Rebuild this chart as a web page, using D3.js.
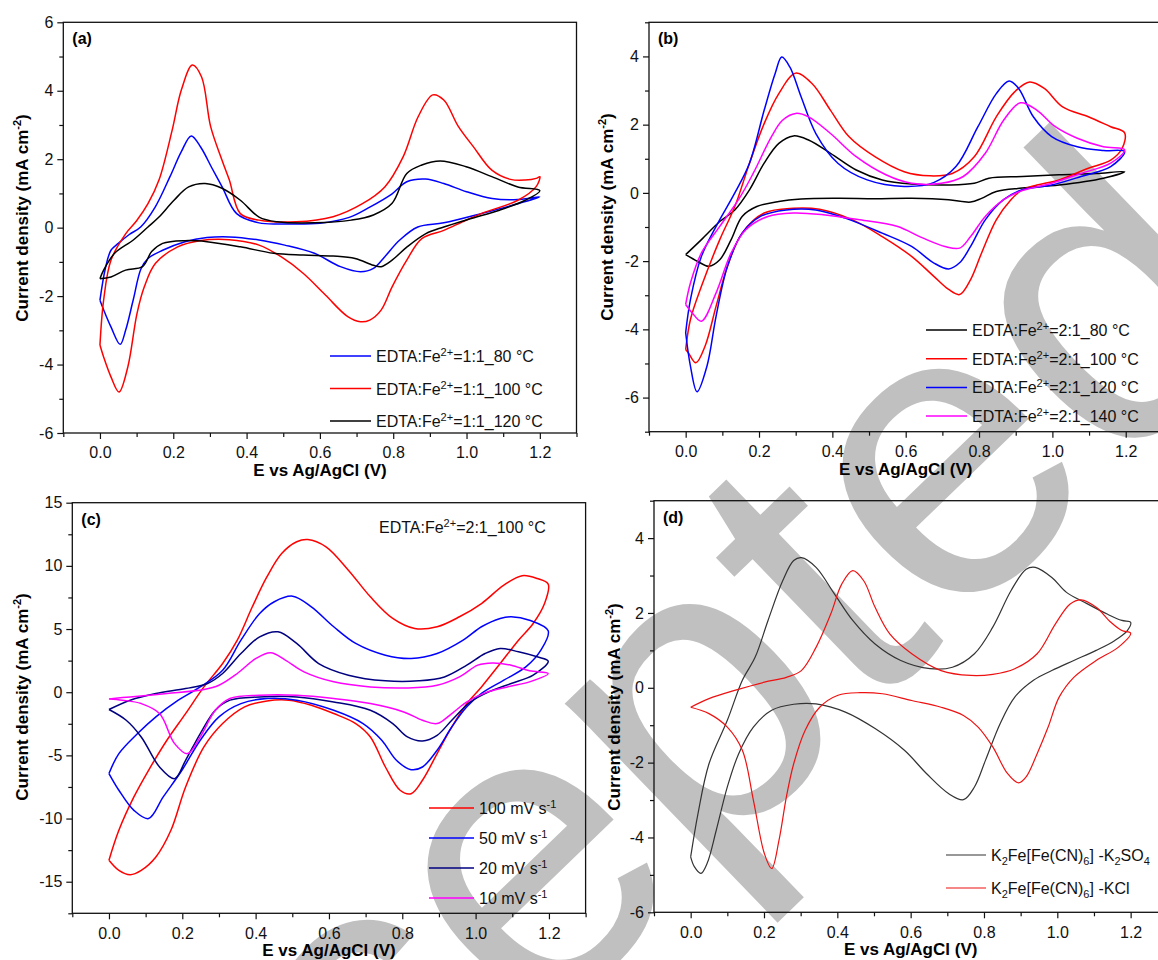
<!DOCTYPE html>
<html>
<head>
<meta charset="utf-8">
<script src="https://cdn.jsdelivr.net/npm/d3@7"></script>
<style>
  body { margin: 0; background: #fff; }
  svg { font-family: "Liberation Sans", Arial, sans-serif; }
  .tick text { font-size: 16px; fill: #111; }
</style>
</head>
<body>
<svg id="fig" width="1158" height="960"></svg>
<script>
// ---- panel (a): EDTA:Fe2+ = 1:1, E (V) / J (mA cm-2) pairs along the sweep
var a80 = [[0,-2.12],[0.015,-1.18],[0.03,-0.66],[0.05,-0.46],[0.08,-0.2],[0.111,0.02],[0.151,0.61],[0.191,1.49],[0.222,2.22],[0.249,2.68],[0.275,2.35],[0.305,1.75],[0.333,1.2],[0.373,0.41],[0.434,0.14],[0.5,0.11],[0.6,0.13],[0.68,0.3],[0.736,0.6],[0.797,0.99],[0.837,1.34],[0.888,1.42],[0.938,1.29],[1.0,1.05],[1.07,0.85],[1.14,0.82],[1.2,0.9],
  [1.14,0.7],[1.04,0.41],[0.938,0.14],[0.867,0.02],[0.817,-0.37],[0.777,-0.85],[0.746,-1.19],[0.711,-1.29],[0.656,-1.14],[0.585,-0.75],[0.504,-0.51],[0.434,-0.36],[0.353,-0.27],[0.292,-0.29],[0.232,-0.41],[0.171,-0.66],[0.131,-0.9],[0.112,-1.2],[0.091,-2.1],[0.07,-3.0],[0.055,-3.41],[0.03,-2.9],[0.01,-2.4],[0,-2.12]];
var a100 = [[0,-3.43],[0.01,-2.12],[0.03,-0.95],[0.07,-0.18],[0.1,0.2],[0.131,0.7],[0.161,1.39],[0.197,2.85],[0.222,4.02],[0.252,4.75],[0.277,4.41],[0.302,2.95],[0.333,1.97],[0.353,1.39],[0.383,0.41],[0.434,0.22],[0.535,0.17],[0.636,0.32],[0.716,0.7],[0.777,1.19],[0.827,2.07],[0.868,3.24],[0.908,3.88],[0.938,3.73],[0.978,2.95],[1.019,2.36],[1.069,1.68],[1.12,1.41],[1.16,1.39],[1.19,1.44],[1.2,1.49],
  [1.19,1.2],[1.14,0.8],[1.04,0.41],[0.989,0.17],[0.938,-0.08],[0.878,-0.32],[0.837,-0.95],[0.797,-1.73],[0.767,-2.41],[0.736,-2.7],[0.711,-2.75],[0.676,-2.6],[0.615,-1.97],[0.555,-1.34],[0.494,-0.85],[0.434,-0.51],[0.353,-0.35],[0.272,-0.38],[0.212,-0.56],[0.151,-1.05],[0.121,-1.73],[0.101,-2.51],[0.076,-4.07],[0.052,-4.8],[0.03,-4.36],[0.01,-3.78],[0,-3.43]];
var a120 = [[0,-1.49],[0.01,-1.24],[0.04,-0.75],[0.091,-0.36],[0.131,0.02],[0.161,0.31],[0.202,0.8],[0.242,1.19],[0.287,1.29],[0.333,1.15],[0.383,0.8],[0.434,0.31],[0.484,0.17],[0.585,0.14],[0.686,0.22],[0.746,0.37],[0.797,0.71],[0.837,1.58],[0.878,1.83],[0.928,1.95],[0.999,1.78],[1.069,1.49],[1.14,1.19],[1.2,1.08],
  [1.16,0.8],[1.09,0.51],[1.01,0.26],[0.938,0.02],[0.888,-0.18],[0.837,-0.57],[0.797,-0.95],[0.767,-1.14],[0.746,-1.1],[0.696,-0.9],[0.636,-0.83],[0.555,-0.8],[0.474,-0.75],[0.383,-0.56],[0.292,-0.41],[0.232,-0.38],[0.171,-0.46],[0.141,-0.7],[0.116,-1.14],[0.07,-1.24],[0.03,-1.44],[0,-1.49]];

// ---- panel (b): EDTA:Fe2+ = 2:1
var b80 = [[0,-1.81],[0.043,-1.37],[0.093,-0.84],[0.134,-0.5],[0.174,0.09],[0.214,0.87],[0.254,1.45],[0.294,1.67],[0.335,1.55],[0.395,1.16],[0.465,0.67],[0.536,0.38],[0.616,0.26],[0.717,0.23],[0.787,0.28],[0.827,0.43],[0.918,0.48],[1.018,0.53],[1.119,0.57],[1.197,0.62],
  [1.139,0.43],[1.018,0.23],[0.918,0.14],[0.847,0.04],[0.807,-0.16],[0.777,-0.27],[0.717,-0.2],[0.616,-0.16],[0.516,-0.17],[0.415,-0.16],[0.315,-0.18],[0.254,-0.25],[0.194,-0.4],[0.154,-0.69],[0.124,-1.37],[0.093,-1.96],[0.063,-2.15],[0.033,-2.01],[0,-1.81]];
var b100 = [[0,-4.59],[0.013,-3.71],[0.043,-2.74],[0.093,-1.37],[0.134,-0.4],[0.174,0.87],[0.214,2.03],[0.254,2.91],[0.3,3.51],[0.345,3.2],[0.395,2.42],[0.445,1.65],[0.516,1.06],[0.596,0.62],[0.666,0.5],[0.727,0.57],[0.787,1.06],[0.847,2.23],[0.897,2.96],[0.938,3.25],[0.978,3.06],[1.028,2.52],[1.098,2.23],[1.159,1.94],[1.197,1.76],
  [1.19,1.3],[1.159,0.96],[1.098,0.72],[1.018,0.38],[0.958,0.23],[0.918,0.09],[0.887,-0.2],[0.847,-0.79],[0.807,-1.76],[0.777,-2.54],[0.747,-2.98],[0.717,-2.83],[0.676,-2.44],[0.616,-1.86],[0.536,-1.28],[0.455,-0.79],[0.365,-0.48],[0.294,-0.45],[0.214,-0.59],[0.154,-1.18],[0.114,-2.15],[0.083,-3.32],[0.053,-4.49],[0.028,-4.98],[0.008,-4.7],[0,-4.59]];
var b120 = [[0,-4.1],[0.013,-3.13],[0.043,-1.86],[0.083,-0.98],[0.134,0],[0.174,0.87],[0.214,2.42],[0.244,3.5],[0.262,3.98],[0.284,3.69],[0.315,2.81],[0.355,1.74],[0.415,0.87],[0.495,0.38],[0.596,0.19],[0.676,0.3],[0.737,0.77],[0.797,1.94],[0.847,2.91],[0.882,3.28],[0.908,3.06],[0.948,2.23],[0.998,1.65],[1.068,1.35],[1.139,1.24],[1.197,1.21],
  [1.159,0.77],[1.078,0.48],[0.998,0.23],[0.918,0.09],[0.867,-0.2],[0.817,-0.79],[0.777,-1.57],[0.747,-2.05],[0.717,-2.23],[0.676,-2.05],[0.616,-1.57],[0.536,-1.18],[0.435,-0.74],[0.355,-0.5],[0.274,-0.5],[0.204,-0.69],[0.154,-1.18],[0.114,-2.15],[0.083,-3.61],[0.058,-5.08],[0.031,-5.83],[0.013,-5.08],[0,-4.1]];
var b140 = [[0,-3.27],[0.013,-2.64],[0.043,-1.76],[0.093,-0.98],[0.144,-0.2],[0.184,0.57],[0.234,1.65],[0.264,2.13],[0.3,2.33],[0.335,2.23],[0.395,1.74],[0.465,1.06],[0.546,0.53],[0.616,0.28],[0.697,0.28],[0.757,0.48],[0.817,1.16],[0.867,2.13],[0.913,2.64],[0.958,2.42],[1.008,1.94],[1.068,1.6],[1.139,1.35],[1.197,1.26],
  [1.159,0.87],[1.078,0.57],[0.998,0.28],[0.918,0.07],[0.867,-0.2],[0.817,-0.69],[0.777,-1.28],[0.747,-1.62],[0.707,-1.57],[0.646,-1.32],[0.576,-0.98],[0.475,-0.79],[0.375,-0.64],[0.294,-0.59],[0.224,-0.69],[0.164,-1.08],[0.124,-1.76],[0.083,-2.93],[0.043,-3.76],[0.018,-3.52],[0,-3.27]];

// ---- panel (c): 2:1_100 °C at different scan rates
var c100 = [[0,-13.3],[0.027,-10.93],[0.068,-8.29],[0.108,-6.18],[0.158,-3.8],[0.209,-1.69],[0.259,0.42],[0.31,2.27],[0.35,4.12],[0.391,6.76],[0.431,9.14],[0.471,10.98],[0.512,11.91],[0.542,12.09],[0.592,11.51],[0.653,9.66],[0.713,7.55],[0.774,5.84],[0.834,5.04],[0.895,5.18],[0.956,5.97],[1.016,7.02],[1.077,8.48],[1.127,9.22],[1.168,9.0],[1.198,8.56],
  [1.188,7.02],[1.157,5.44],[1.117,4.12],[1.067,2.27],[1.016,0.42],[0.976,-0.9],[0.935,-2.75],[0.895,-4.86],[0.855,-6.97],[0.824,-8.03],[0.794,-7.76],[0.754,-5.92],[0.713,-3.54],[0.673,-2.48],[0.613,-1.69],[0.552,-1.03],[0.491,-0.63],[0.431,-0.69],[0.37,-1.16],[0.31,-2.48],[0.259,-4.33],[0.209,-7.5],[0.169,-10.93],[0.128,-13.04],[0.088,-14.1],[0.058,-14.44],[0.027,-14.1],[0,-13.3]];
var c50 = [[0,-6.44],[0.027,-4.86],[0.078,-3.27],[0.128,-1.95],[0.189,-0.63],[0.249,0.42],[0.31,1.74],[0.36,4.12],[0.411,6.23],[0.451,7.16],[0.501,7.6],[0.552,6.76],[0.613,5.18],[0.673,3.86],[0.754,2.93],[0.824,2.67],[0.895,3.06],[0.966,4.12],[1.016,5.18],[1.067,5.84],[1.097,5.97],[1.147,5.7],[1.198,4.86],
  [1.178,3.33],[1.137,2.0],[1.077,0.95],[1.016,-0.1],[0.976,-1.16],[0.935,-2.75],[0.895,-4.59],[0.855,-5.92],[0.824,-6.13],[0.784,-5.39],[0.744,-3.8],[0.693,-2.48],[0.613,-1.43],[0.512,-0.63],[0.431,-0.5],[0.36,-0.9],[0.3,-1.95],[0.249,-3.8],[0.199,-6.18],[0.148,-8.29],[0.108,-10.0],[0.068,-9.35],[0.027,-7.76],[0,-6.44]];
var c20 = [[0,-1.37],[0.058,-0.63],[0.128,-0.1],[0.209,0.29],[0.269,0.69],[0.31,1.48],[0.36,3.06],[0.411,4.38],[0.461,4.78],[0.512,3.86],[0.572,2.27],[0.653,1.35],[0.754,0.9],[0.845,0.9],[0.915,1.21],[0.976,2.14],[1.026,3.06],[1.067,3.46],[1.117,3.2],[1.168,2.8],[1.198,2.46],
  [1.157,1.35],[1.097,0.69],[1.036,0.03],[0.986,-0.77],[0.935,-2.22],[0.895,-3.41],[0.855,-3.86],[0.814,-3.54],[0.774,-2.48],[0.713,-1.43],[0.613,-0.77],[0.512,-0.37],[0.411,-0.37],[0.33,-0.63],[0.29,-1.43],[0.249,-3.27],[0.209,-5.39],[0.179,-6.84],[0.138,-5.92],[0.088,-3.54],[0.047,-2.22],[0,-1.37]];
var c10 = [[0,-0.53],[0.058,-0.37],[0.158,-0.1],[0.259,0.21],[0.3,0.55],[0.35,1.48],[0.401,2.67],[0.441,3.12],[0.481,2.54],[0.532,1.61],[0.613,0.82],[0.713,0.42],[0.814,0.34],[0.895,0.55],[0.956,1.21],[1.006,2.14],[1.046,2.32],[1.097,2.14],[1.147,1.69],[1.198,1.48],
  [1.147,0.82],[1.087,0.42],[1.026,-0.05],[0.976,-0.77],[0.935,-1.69],[0.895,-2.48],[0.855,-2.22],[0.804,-1.56],[0.713,-0.9],[0.613,-0.5],[0.512,-0.24],[0.411,-0.24],[0.33,-0.5],[0.29,-1.43],[0.249,-3.54],[0.214,-4.86],[0.179,-4.07],[0.138,-1.69],[0.088,-0.9],[0.037,-0.63],[0,-0.53]];

// ---- panel (d): K2Fe[Fe(CN)6] in two electrolytes
var dSO4 = [[0,-4.52],[0.02,-3.36],[0.05,-2.03],[0.1,-0.87],[0.141,0.2],[0.176,0.82],[0.211,1.8],[0.251,2.86],[0.281,3.4],[0.302,3.48],[0.342,3.22],[0.392,2.51],[0.442,1.8],[0.503,1.17],[0.573,0.73],[0.653,0.51],[0.714,0.55],[0.774,0.91],[0.824,1.62],[0.874,2.6],[0.915,3.17],[0.94,3.22],[0.985,2.95],[1.025,2.55],[1.075,2.28],[1.136,1.97],[1.176,1.8],[1.2,1.75],
  [1.191,1.53],[1.156,1.26],[1.106,1.0],[1.045,0.73],[0.985,0.46],[0.935,0.2],[0.884,-0.25],[0.844,-0.96],[0.804,-1.94],[0.774,-2.65],[0.744,-2.99],[0.704,-2.83],[0.643,-2.29],[0.583,-1.67],[0.503,-1.09],[0.422,-0.65],[0.342,-0.43],[0.281,-0.44],[0.221,-0.6],[0.171,-1.05],[0.131,-1.76],[0.1,-2.65],[0.07,-3.8],[0.045,-4.69],[0.028,-4.96],[0.01,-4.78],[0,-4.52]];
var dKCl = [[0,-0.52],[0.05,-0.29],[0.12,-0.07],[0.201,0.15],[0.261,0.28],[0.302,0.46],[0.342,1.08],[0.382,1.97],[0.412,2.77],[0.442,3.13],[0.472,2.86],[0.503,2.15],[0.543,1.44],[0.603,0.91],[0.683,0.46],[0.764,0.33],[0.824,0.36],[0.884,0.51],[0.945,0.91],[0.995,1.71],[1.035,2.24],[1.065,2.35],[1.106,2.15],[1.146,1.75],[1.176,1.53],[1.2,1.46],
  [1.166,1.08],[1.106,0.73],[1.045,0.28],[1.005,-0.25],[0.975,-1.05],[0.945,-1.76],[0.915,-2.38],[0.894,-2.54],[0.864,-2.29],[0.824,-1.58],[0.784,-1.05],[0.744,-0.74],[0.683,-0.52],[0.603,-0.34],[0.523,-0.16],[0.462,-0.13],[0.402,-0.2],[0.352,-0.52],[0.312,-1.14],[0.281,-2.03],[0.261,-2.92],[0.241,-4.07],[0.221,-4.83],[0.201,-4.43],[0.171,-3.0],[0.141,-1.67],[0.1,-1.05],[0.05,-0.69],[0,-0.52]];

// tick values
var xMajor = [0, 0.2, 0.4, 0.6, 0.8, 1.0, 1.2];
var xMinor = [-0.1, 0.1, 0.3, 0.5, 0.7, 0.9, 1.1, 1.3];
var yMajorA = [-6, -4, -2, 0, 2, 4, 6], yMinorA = [-5, -3, -1, 1, 3, 5];
var yMajorB = [-6, -4, -2, 0, 2, 4], yMinorB = [-7, -5, -3, -1, 1, 3, 5];
var yMajorC = [-15, -10, -5, 0, 5, 10, 15], yMinorC = [-17.5, -12.5, -7.5, -2.5, 2.5, 7.5, 12.5];
var yMajorD = [-6, -4, -2, 0, 2, 4], yMinorD = [-5, -3, -1, 1, 3, 5];

var svg = d3.select("#fig");

// grey "Accepted" stamp lying under the figure
svg.append("text")
    .attr("transform", "translate(34,1521) rotate(-44)")
    .attr("font-size", 415)
    .attr("fill", "#c0c0c0")
    .text("Accepted");

var fmtX = function (d) { return d.toFixed(1); };
var fmtY = function (d) { return String(d); };

function panel(p) {
    var g = svg.append("g");
    var x = d3.scaleLinear().domain([-0.1, 1.3]).range(p.xr);
    var y = d3.scaleLinear().domain(p.yd).range(p.yr);

    g.append("g").attr("transform", "translate(0," + p.yr[0] + ")")
        .call(d3.axisBottom(x).tickValues(xMajor).tickSize(6).tickPadding(8).tickFormat(fmtX));
    g.append("g").attr("transform", "translate(0," + p.yr[0] + ")")
        .call(d3.axisBottom(x).tickValues(xMinor).tickSize(4).tickFormat(""));
    g.append("g").attr("transform", "translate(" + p.xr[0] + ",0)")
        .call(d3.axisLeft(y).tickValues(p.yMajor).tickSize(6).tickPadding(4).tickFormat(fmtY));
    g.append("g").attr("transform", "translate(" + p.xr[0] + ",0)")
        .call(d3.axisLeft(y).tickValues(p.yMinor).tickSize(4).tickFormat(""));
    g.selectAll(".domain").remove();
    g.selectAll(".tick line").attr("stroke", "#111").attr("stroke-width", 1.2);

    g.append("rect")
        .attr("x", p.xr[0]).attr("y", p.yr[1])
        .attr("width", p.xr[1] - p.xr[0]).attr("height", p.yr[0] - p.yr[1])
        .attr("fill", "none").attr("stroke", "#111").attr("stroke-width", 1.3);

    var line = d3.line()
        .x(function (d) { return x(d[0]); })
        .y(function (d) { return y(d[1]); })
        .curve(d3.curveCatmullRom.alpha(0.5));
    p.series.forEach(function (s) {
        g.append("path").datum(s.data)
            .attr("fill", "none").attr("stroke", s.color)
            .attr("stroke-width", p.lw).attr("d", line);
    });

    // legend
    p.series.forEach(function (s, i) {
        var ly = p.leg.y + i * p.leg.dy;
        g.append("line").attr("x1", p.leg.x).attr("x2", p.leg.x + p.leg.w)
            .attr("y1", ly).attr("y2", ly)
            .attr("stroke", s.color).attr("stroke-width", p.lw);
        var t = g.append("text").attr("x", p.leg.x + p.leg.w + 5).attr("y", ly + 6)
            .attr("font-size", 16).attr("fill", "#111");
        s.label.forEach(function (part) {
            var ts = t.append("tspan").text(part[0]);
            if (part[1] == "sup") ts.attr("dy", -6).attr("font-size", 11);
            if (part[1] == "sub") ts.attr("dy", 4).attr("font-size", 11);
            if (part[1] == "back") ts.attr("dy", 6);
            if (part[1] == "up") ts.attr("dy", -4);
        });
    });

    // panel letter
    g.append("text").attr("x", p.xr[0] + 9).attr("y", p.yr[1] + 22)
        .attr("font-size", 16).attr("font-weight", "bold").text(p.tag);

    // axis titles
    g.append("text")
        .attr("x", (p.xr[0] + p.xr[1]) / 2).attr("y", p.yr[0] + 43)
        .attr("text-anchor", "middle").attr("font-size", 17).attr("font-weight", "bold")
        .text("E vs Ag/AgCl (V)");
    var yt = g.append("text")
        .attr("transform", "translate(" + p.ytx + "," + p.ytc + ") rotate(-90)")
        .attr("text-anchor", "middle").attr("font-size", 17).attr("font-weight", "bold");
    yt.append("tspan").text("Current density (mA cm");
    yt.append("tspan").attr("dy", -7).attr("font-size", 11).text("-2");
    yt.append("tspan").attr("dy", 7).text(")");
    return g;
}

function edta(r, t) {
    return [["EDTA:Fe"], ["2+", "sup"], ["=" + r + "_" + t + " \u00b0C", "back"]];
}
function rate(v) {
    return [[v + " mV s"], ["-1", "sup"]];
}

panel({
    tag: "(a)", xr: [63.3, 576.5], yd: [-6, 6], yr: [433, 22.3],
    yMajor: yMajorA, yMinor: yMinorA, lw: 1.5, ytx: 28, ytc: 218,
    leg: { x: 330, y: 356, dy: 32.5, w: 41 },
    series: [
        { data: a80, color: "#0000ff", label: edta("1:1", "80") },
        { data: a100, color: "#ff0000", label: edta("1:1", "100") },
        { data: a120, color: "#000000", label: edta("1:1", "120") }
    ]
});
panel({
    tag: "(b)", xr: [649, 1162.4], yd: [-7, 5], yr: [431.7, 22.3],
    yMajor: yMajorB, yMinor: yMinorB, lw: 1.5, ytx: 613, ytc: 217,
    leg: { x: 926, y: 330, dy: 28.7, w: 41 },
    series: [
        { data: b80, color: "#000000", label: edta("2:1", "80") },
        { data: b100, color: "#ff0000", label: edta("2:1", "100") },
        { data: b120, color: "#0000ff", label: edta("2:1", "120") },
        { data: b140, color: "#ff00ff", label: edta("2:1", "140") }
    ]
});
var gc = panel({
    tag: "(c)", xr: [72.3, 585.6], yd: [-17.5, 15], yr: [913.3, 502.7],
    yMajor: yMajorC, yMinor: yMinorC, lw: 1.5, ytx: 28, ytc: 697,
    leg: { x: 429, y: 808, dy: 30, w: 45 },
    series: [
        { data: c100, color: "#ff0000", label: rate(100) },
        { data: c50, color: "#0000ff", label: rate(50) },
        { data: c20, color: "#000080", label: rate(20) },
        { data: c10, color: "#ff00ff", label: rate(10) }
    ]
});
var note = gc.append("text").attr("x", 379).attr("y", 533).attr("font-size", 16).attr("fill", "#111");
note.append("tspan").text("EDTA:Fe");
note.append("tspan").attr("dy", -6).attr("font-size", 11).text("2+");
note.append("tspan").attr("dy", 6).text("=2:1_100 \u00b0C");

panel({
    tag: "(d)", xr: [654, 1167.3], yd: [-6, 5], yr: [912.3, 500.7],
    yMajor: yMajorD, yMinor: yMinorD, lw: 1.2, ytx: 620, ytc: 707,
    leg: { x: 946, y: 855, dy: 33, w: 40 },
    series: [
        { data: dSO4, color: "#333333", label: [["K"], ["2", "sub"], ["Fe[Fe(CN)", "up"], ["6", "sub"], ["] -K", "up"], ["2", "sub"], ["SO", "up"], ["4", "sub"]] },
        { data: dKCl, color: "#ee1111", label: [["K"], ["2", "sub"], ["Fe[Fe(CN)", "up"], ["6", "sub"], ["] -KCl", "up"]] }
    ]
});
</script>
</body>
</html>
